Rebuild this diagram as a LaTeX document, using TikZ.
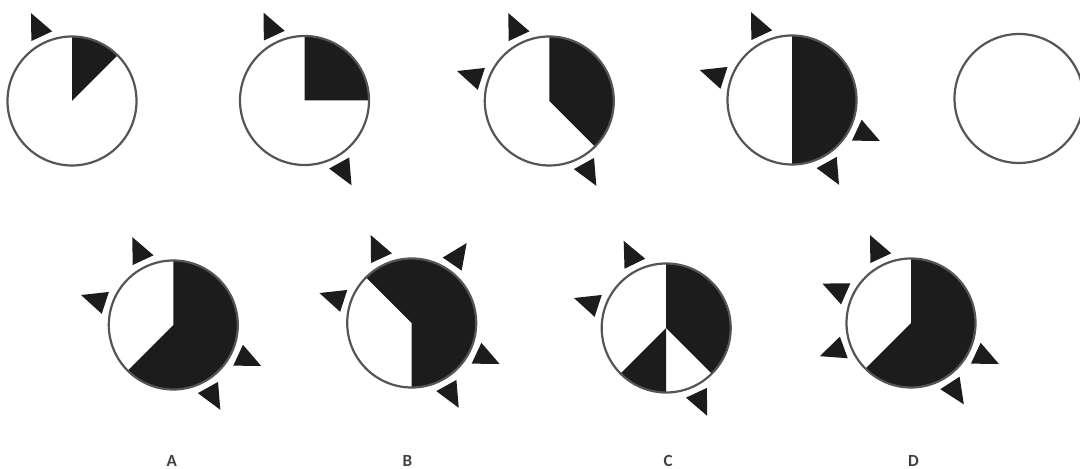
\documentclass[tikz,border=0pt]{standalone}
\usepackage{fontspec}
\newfontfamily\labfont{Carlito}
\usetikzlibrary{calc}
\definecolor{ink}{HTML}{1C1C1C}
\definecolor{rim}{HTML}{555555}
\definecolor{labc}{HTML}{404040}
\tikzset{
  sect/.style={fill=ink},
  rimline/.style={draw=rim, line width=1.1pt},
  mk/.style={fill=ink},
  lab/.style={font=\labfont\bfseries\fontsize{8.5}{9}\selectfont, text=labc, inner sep=0pt}
}
\newcommand\mymark[2]{\fill[mk] ($(#1)+(#2:71.5)+(#2+90:11.5)$) -- ($(#1)+(#2:97)$) -- ($(#1)+(#2:71.5)+(#2-90:11.5)$) -- cycle;}
\newcommand\mysect[3]{\fill[sect] (#1) -- ($(#1)+(#2:64.5)$) arc[start angle=#2, end angle=#3, radius=64.5] -- cycle;}
\newcommand\myrim[1]{\draw[rimline] (#1) circle[radius=64.5];}
\begin{document}
\begin{tikzpicture}[x=0.5pt,y=0.5pt]
\useasboundingbox (0,0) rectangle (1080,469);
% centres (image y flipped: Y = 469 - y)
\coordinate (c1) at (72,368);
\coordinate (c2) at (304.5,368.5);
\coordinate (c3) at (549.3,368);
\coordinate (c4) at (792,369);
\coordinate (c5) at (1019,370.5);
\coordinate (cA) at (173.3,144);
\coordinate (cB) at (411.7,146);
\coordinate (cC) at (666.2,141);
\coordinate (cD) at (911,146);
% sectors
\mysect{c1}{45}{90}
\mysect{c2}{0}{90}
\mysect{c3}{-45}{90}
\mysect{c4}{-90}{90}
\mysect{cA}{-135}{90}
\mysect{cB}{-90}{135}
\mysect{cC}{-45}{90}
\mysect{cC}{225}{270}
\mysect{cD}{-135}{90}
% rims
\myrim{c1}\myrim{c2}\myrim{c3}\myrim{c4}\myrim{c5}
\myrim{cA}\myrim{cB}\myrim{cC}\myrim{cD}
% markers
\mymark{c1}{115}
\mymark{c2}{115}\mymark{c2}{-61}
\mymark{c3}{115}\mymark{c3}{162}\mymark{c3}{-61}
\mymark{c4}{115}\mymark{c4}{162}\mymark{c4}{-25}\mymark{c4}{-61}
\mymark{cA}{115}\mymark{cA}{162}\mymark{cA}{-25}\mymark{cA}{-61}
\mymark{cB}{115}\mymark{cB}{55.5}\mymark{cB}{162}\mymark{cB}{-25}\mymark{cB}{-61}
\mymark{cC}{116}\mymark{cC}{162}\mymark{cC}{-65}
\mymark{cD}{115}\mymark{cD}{156}\mymark{cD}{200}\mymark{cD}{-25}\mymark{cD}{-57}
% labels
\node[lab] (lA) at (171.7,8) {A};
\node[lab] (lB) at (407.5,8) {B};
\node[lab] (lC) at (668,8) {C};
\node[lab] (lD) at (913.5,8) {D};
\end{tikzpicture}
\end{document}
